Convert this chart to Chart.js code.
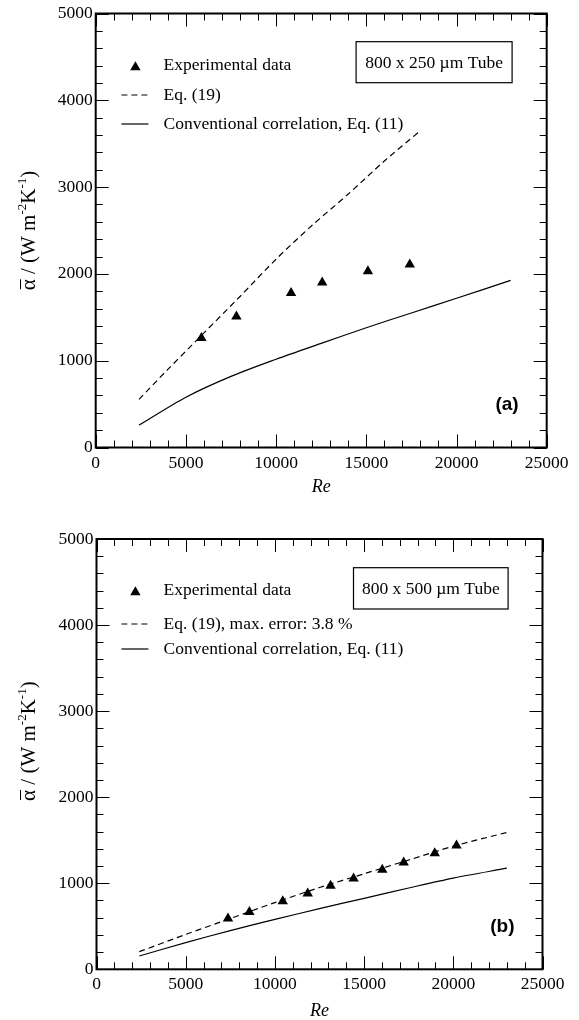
<!DOCTYPE html>
<html>
<head>
<meta charset="utf-8">
<script src="https://cdn.jsdelivr.net/npm/chart.js@4.4.1/dist/chart.umd.min.js"></script>
<style>
  html, body { margin: 0; padding: 0; background: #fff; }
  #wrap { position: relative; width: 579px; height: 1020px; }
  canvas { position: absolute; left: 0; }
  #chartA { top: 0; }
  #chartB { top: 500px; }
</style>
</head>
<body>
<div id="wrap">
  <canvas id="chartA" width="579" height="500"></canvas>
  <canvas id="chartB" width="579" height="520"></canvas>
</div>
<script>
// Datos (a): tubo 800 x 250 µm
const reExpA = [5860, 7800, 10830, 12555, 15090, 17410];
const alphaExpA = [1262, 1508, 1780, 1900, 2030, 2108];
const reEqA = [2400, 4000, 6000, 8000, 10000, 12000, 14000, 16000, 18000];
const alphaEqA = [555, 900, 1320, 1740, 2170, 2560, 2920, 3300, 3650];
const reConvA = [2400, 5000, 7500, 10000, 12500, 15000, 17500, 20000, 23000];
const alphaConvA = [258, 580, 820, 1017, 1200, 1380, 1550, 1720, 1925];

// Datos (b): tubo 800 x 500 µm
const reExpB = [7370, 8570, 10440, 11840, 13120, 14410, 16020, 17220, 18960, 20180];
const alphaExpB = [590, 666, 790, 882, 972, 1054, 1158, 1240, 1348, 1438];
const reEqB = [2400, 5000, 7500, 10000, 12500, 15000, 17500, 20000, 23000];
const alphaEqB = [205, 405, 590, 775, 950, 1110, 1270, 1430, 1590];
const reConvB = [2400, 5000, 7500, 10000, 12500, 15000, 17500, 20000, 23000];
const alphaConvB = [155, 310, 450, 580, 705, 825, 945, 1060, 1175];

// Ejes
const xTicks = [0, 5000, 10000, 15000, 20000, 25000];
const yTicks = [0, 1000, 2000, 3000, 4000, 5000];

// Textos
const legendA = ['Experimental data', 'Eq. (19)', 'Conventional correlation, Eq. (11)'];
const legendB = ['Experimental data', 'Eq. (19), max. error: 3.8 %', 'Conventional correlation, Eq. (11)'];
const tubeA = '800 x 250 µm Tube';
const tubeB = '800 x 500 µm Tube';
const xTitle = 'Re';

const SERIF = '"Liberation Serif", "Times New Roman", serif';

function puntos(xs, ys) {
    return xs.map((v, i) => ({ x: v, y: ys[i] }));
}

function linea(ctx, x1, y1, x2, y2) {
    ctx.beginPath();
    ctx.moveTo(x1, y1);
    ctx.lineTo(x2, y2);
    ctx.stroke();
}

function triangulo(ctx, cx, cy, r) {
    ctx.beginPath();
    for (let k = 0; k < 3; k++) {
        const ang = k * 2 * Math.PI / 3;
        const px = cx + Math.sin(ang) * r;
        const py = cy - Math.cos(ang) * r;
        if (k === 0) ctx.moveTo(px, py); else ctx.lineTo(px, py);
    }
    ctx.closePath();
    ctx.fill();
}

// Título del eje Y con superíndices
function tituloY(ctx, cx, cy) {
    const big = '21px ' + SERIF;
    const small = '13px ' + SERIF;
    const partes = [['α', big, 0], [' / (W m', big, 0], ['-2', small, -9], ['K', big, 0], ['-1', small, -9], [')', big, 0]];
    let total = 0;
    partes.forEach(p => { ctx.font = p[1]; p.push(ctx.measureText(p[0]).width); total += p[3]; });
    ctx.save();
    ctx.translate(cx, cy);
    ctx.rotate(-Math.PI / 2);
    ctx.textBaseline = 'alphabetic';
    ctx.textAlign = 'left';
    let x = -total / 2;
    partes.forEach((p, i) => {
        ctx.font = p[1];
        ctx.fillText(p[0], x, p[2]);
        if (i === 0) {
            ctx.lineWidth = 1;
            linea(ctx, x + 1, -14.5, x + p[3], -14.5);
        }
        x += p[3];
    });
    ctx.restore();
}

// Marco, marcas internas, leyenda, recuadro y etiquetas
const marcoPlugin = {
    id: 'marco',
    afterDatasetsDraw(chart, args, o) {
        const { ctx, chartArea: a, scales: { x, y } } = chart;
        ctx.save();
        ctx.strokeStyle = '#000';
        ctx.fillStyle = '#000';
        ctx.lineWidth = 1;
        for (let v = x.min; v <= x.max; v += 1000) {
            const px = Math.round(x.getPixelForValue(v)) + 0.5;
            const len = v % 5000 === 0 ? 13 : 7;
            linea(ctx, px, a.bottom, px, a.bottom - len);
            linea(ctx, px, a.top, px, a.top + len);
        }
        for (let v = y.min; v <= y.max; v += 200) {
            const py = Math.round(y.getPixelForValue(v)) + 0.5;
            const len = v % 1000 === 0 ? 13 : 7;
            linea(ctx, a.left, py, a.left + len, py);
            linea(ctx, a.right, py, a.right - len, py);
        }
        ctx.lineWidth = 2;
        ctx.strokeRect(a.left, a.top, a.right - a.left, a.bottom - a.top);

        // leyenda
        ctx.font = '17.5px ' + SERIF;
        ctx.textBaseline = 'middle';
        ctx.textAlign = 'left';
        o.filas.forEach((fy, i) => {
            const yy = a.top + fy;
            if (i === 0) {
                triangulo(ctx, a.left + o.simbolo, yy + 1.5, 6);
            } else {
                ctx.lineWidth = 1.2;
                ctx.setLineDash(i === 1 ? [6, 4] : []);
                linea(ctx, a.left + o.simbolo - 14, yy, a.left + o.simbolo + 13, yy);
                ctx.setLineDash([]);
            }
            ctx.fillText(o.textos[i], a.left + o.texto, yy);
        });

        // recuadro del tubo
        ctx.lineWidth = 1.2;
        const bx = a.left + o.caja[0], by = a.top + o.caja[1];
        const bw = o.caja[2], bh = o.caja[3];
        ctx.strokeRect(bx, by, bw, bh);
        ctx.font = '17.5px ' + SERIF;
        ctx.textAlign = 'center';
        ctx.fillText(o.tubo, bx + bw / 2, by + bh / 2 + 1);

        // letra del panel
        ctx.font = 'bold 19px "Liberation Sans", Arial, sans-serif';
        ctx.textAlign = 'right';
        ctx.fillText(o.letra, a.right - 28, a.bottom - 42.5);

        // título eje X
        ctx.font = 'italic 18px ' + SERIF;
        ctx.textAlign = 'center';
        ctx.fillText(xTitle, (a.left + a.right) / 2, a.bottom + o.reY);

        tituloY(ctx, 35, (a.top + a.bottom) / 2 + o.tituloDesp);
        ctx.restore();
    }
};

function crearGrafico(id, datos, geo, marco) {
    const alto = document.getElementById(id).height;
    return new Chart(document.getElementById(id), {
        type: 'scatter',
        data: {
            datasets: [
                {
                    data: datos.conv,
                    showLine: true,
                    borderColor: '#000',
                    borderWidth: 1.2,
                    pointRadius: 0,
                    tension: 0.3
                },
                {
                    data: datos.eq,
                    showLine: true,
                    borderColor: '#000',
                    borderWidth: 1.2,
                    borderDash: [6, 4],
                    pointRadius: 0,
                    tension: 0.3
                },
                {
                    data: datos.exp,
                    pointStyle: 'triangle',
                    pointRadius: 6,
                    pointBackgroundColor: '#000',
                    pointBorderColor: '#000',
                    pointBorderWidth: 0
                }
            ]
        },
        options: {
            responsive: false,
            animation: false,
            devicePixelRatio: 1,
            layout: { padding: { left: 0, right: 579 - geo.right, top: geo.top, bottom: 0 } },
            plugins: {
                legend: { display: false },
                tooltip: { enabled: false },
                marco: marco
            },
            scales: {
                x: {
                    type: 'linear',
                    min: 0,
                    max: 25000,
                    afterBuildTicks: s => { s.ticks = xTicks.map(v => ({ value: v })); },
                    afterFit: s => { s.height = alto - geo.bottom; },
                    grid: { display: false, drawTicks: false },
                    border: { display: false },
                    ticks: {
                        color: '#000',
                        padding: 5,
                        maxRotation: 0,
                        font: { family: SERIF, size: 17.5 },
                        callback: v => String(v)
                    }
                },
                y: {
                    type: 'linear',
                    min: 0,
                    max: 5000,
                    afterBuildTicks: s => { s.ticks = yTicks.map(v => ({ value: v })); },
                    afterFit: s => { s.width = geo.left; },
                    grid: { display: false, drawTicks: false },
                    border: { display: false },
                    ticks: {
                        color: '#000',
                        padding: 3,
                        font: { family: SERIF, size: 17.5 },
                        callback: v => String(v)
                    }
                }
            }
        },
        plugins: [marcoPlugin]
    });
}

crearGrafico('chartA',
    { exp: puntos(reExpA, alphaExpA), eq: puntos(reEqA, alphaEqA), conv: puntos(reConvA, alphaConvA) },
    { left: 95.7, right: 546.7, top: 13.5, bottom: 447.5 },
    { filas: [52.2, 81.5, 110.5], simbolo: 39.7, texto: 67.8, caja: [260.4, 28.2, 156, 41], tubo: tubeA, textos: legendA, letra: '(a)', reY: 40, tituloDesp: 0 }
);

crearGrafico('chartB',
    { exp: puntos(reExpB, alphaExpB), eq: puntos(reEqB, alphaEqB), conv: puntos(reConvB, alphaConvB) },
    { left: 96.5, right: 542.5, top: 39, bottom: 469.3 },
    { filas: [51.7, 85, 110], simbolo: 38.9, texto: 67, caja: [257, 28.7, 154.6, 41.3], tubo: tubeB, textos: legendB, letra: '(b)', reY: 42, tituloDesp: -13 }
);
</script>
</body>
</html>
